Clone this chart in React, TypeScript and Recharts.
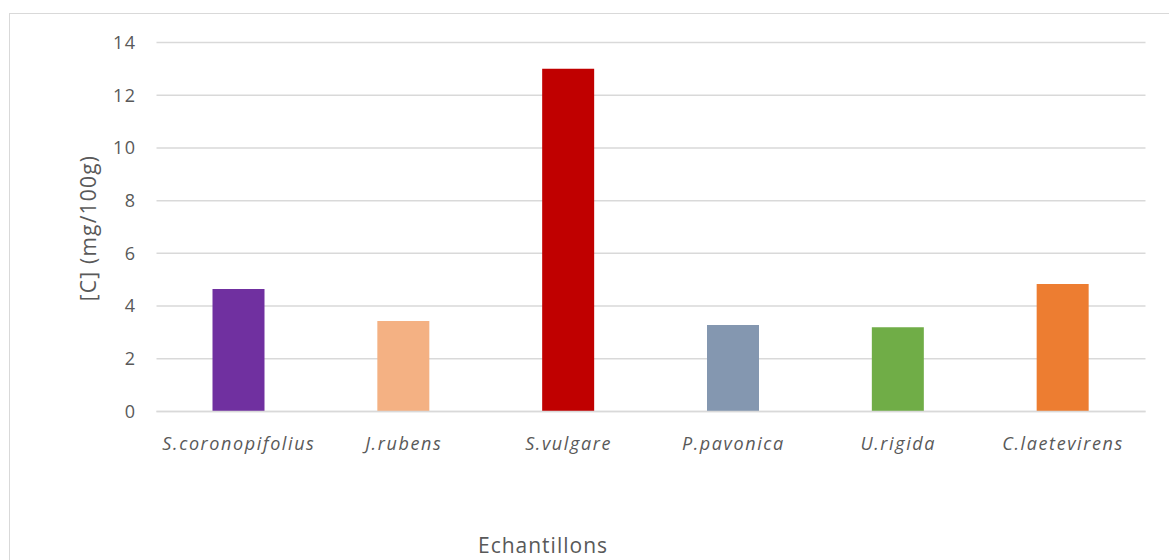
import { BarChart, Bar, XAxis, YAxis, CartesianGrid, Cell } from "recharts";

// concentration per sample, mg/100g
const samples = [
  "S.coronopifolius",
  "J.rubens",
  "S.vulgare",
  "P.pavonica",
  "U.rigida",
  "C.laetevirens",
];
const concentrations = [4.65, 3.43, 13.0, 3.28, 3.2, 4.84];
const barColors = ["#7030a0", "#f4b183", "#c00000", "#8497b0", "#70ad47", "#ed7d31"];
const yTicks = [0, 2, 4, 6, 8, 10, 12, 14];

const data = samples.map((name, i) => ({ name, value: concentrations[i] }));

const textColor = "#595959";
const font = "'Open Sans', sans-serif";

export default function App() {
  return (
    <div
      style={{
        position: "absolute",
        left: 0,
        top: 0,
        width: 1169,
        height: 560,
        overflow: "hidden",
        background: "#fff",
        fontFamily: font,
      }}
    >
      <div
        style={{
          position: "absolute",
          left: 9,
          top: 13,
          width: 1200,
          height: 600,
          borderTop: "1.5px solid #d9d9d9",
          borderLeft: "1.5px solid #d9d9d9",
        }}
      />
      <BarChart
        width={1169}
        height={560}
        data={data}
        margin={{ top: 42.5, right: 23.5, left: 96.5, bottom: 118.5 }}
        style={{ position: "absolute", left: 0, top: 0 }}
      >
        <CartesianGrid vertical={false} stroke="#d9d9d9" strokeWidth={1.5} />
        <XAxis
          dataKey="name"
          height={30}
          axisLine={{ stroke: "#d9d9d9", strokeWidth: 1.5 }}
          tickLine={false}
          tickSize={0}
          tickMargin={26}
          interval={0}
          tick={{
            fill: textColor,
            fontSize: 18,
            fontStyle: "italic",
            fontFamily: font,
            letterSpacing: 1.6,
          }}
        />
        <YAxis
          width={60}
          domain={[0, 14]}
          ticks={yTicks}
          axisLine={false}
          tickLine={false}
          tickSize={0}
          tickMargin={20}
          tick={{ fill: textColor, fontSize: 18, fontFamily: font, letterSpacing: 1.5 }}
        />
        <Bar dataKey="value" barSize={52} isAnimationActive={false}>
          {data.map((d, i) => (
            <Cell key={d.name} fill={barColors[i]} />
          ))}
        </Bar>
      </BarChart>
      <div
        style={{
          position: "absolute",
          left: 88,
          top: 228,
          transform: "translate(-50%, -50%) rotate(-90deg)",
          whiteSpace: "nowrap",
          fontSize: 21,
          letterSpacing: 1.2,
          color: textColor,
        }}
      >
        [C] (mg/100g)
      </div>
      <div
        style={{
          position: "absolute",
          left: 543,
          top: 545,
          transform: "translate(-50%, -50%)",
          whiteSpace: "nowrap",
          fontSize: 21,
          letterSpacing: 1,
          color: textColor,
        }}
      >
        Echantillons
      </div>
    </div>
  );
}
